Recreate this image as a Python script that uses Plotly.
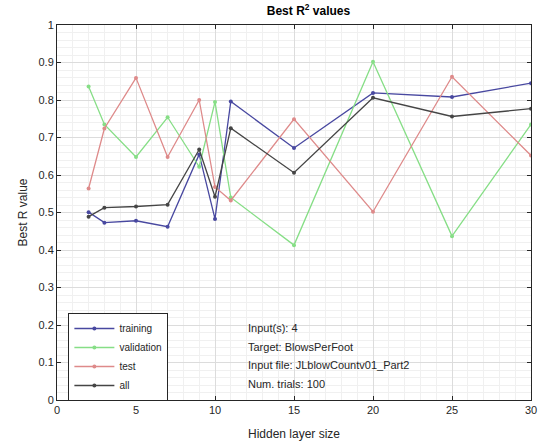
import plotly.graph_objects as go

hidden_sizes = [2, 3, 5, 7, 9, 10, 11, 15, 20, 25, 30]
training = [0.501, 0.473, 0.478, 0.462, 0.655, 0.483, 0.796, 0.672, 0.819, 0.808, 0.845]
validation = [0.836, 0.735, 0.648, 0.754, 0.622, 0.795, 0.540, 0.413, 0.902, 0.437, 0.735]
test = [0.564, 0.724, 0.859, 0.648, 0.800, 0.568, 0.532, 0.749, 0.502, 0.862, 0.652]
all_ = [0.489, 0.513, 0.516, 0.521, 0.668, 0.542, 0.725, 0.606, 0.806, 0.756, 0.777]

series_names = ["training", "validation", "test", "all"]
series_values = [training, validation, test, all_]
series_colors = ["#4848a0", "#86de86", "#de8a8a", "#454545"]

x_ticks = [0, 5, 10, 15, 20, 25, 30]
y_ticks = [0, 0.1, 0.2, 0.3, 0.4, 0.5, 0.6, 0.7, 0.8, 0.9, 1]
y_tick_labels = ["0", "0.1", "0.2", "0.3", "0.4", "0.5", "0.6", "0.7", "0.8", "0.9", "1"]

info_lines = ["Input(s): 4", "Target: BlowsPerFoot", "Input file: JLblowCountv01_Part2", "Num. trials: 100"]

fig = go.Figure()
for name, vals, col in zip(series_names, series_values, series_colors):
    fig.add_trace(go.Scatter(
        x=hidden_sizes, y=vals, mode="lines+markers", name=name,
        line=dict(color=col, width=1.3),
        marker=dict(color=col, size=4, symbol="circle"),
    ))

font_fam = "Liberation Sans, Arial, sans-serif"
axis_common = dict(
    showline=True, linecolor="#262626", linewidth=1, mirror="allticks",
    ticks="inside", ticklen=4, tickcolor="#262626",
    showgrid=True, gridcolor="#dcdcdc", gridwidth=1,
    zeroline=False,
    tickfont=dict(family=font_fam, size=11, color="#262626"),
)

fig.update_xaxes(
    range=[0, 30], tickvals=x_ticks,
    minor=dict(dtick=1, showgrid=True, gridcolor="#f0f0f0", ticks=""),
    title=dict(text="Hidden layer size", font=dict(family=font_fam, size=12, color="#262626"), standoff=14),
    **axis_common,
)
fig.update_yaxes(
    range=[0, 1], tickvals=y_ticks, ticktext=y_tick_labels,
    minor=dict(dtick=0.02, showgrid=True, gridcolor="#f0f0f0", ticks=""),
    title=dict(text="Best R value", font=dict(family=font_fam, size=12, color="#262626"), standoff=8),
    **axis_common,
)

for i, line in enumerate(info_lines):
    fig.add_annotation(
        x=0.399, y=0.192 - i * 0.0499, xref="paper", yref="paper",
        text=line, showarrow=False, xanchor="left", yanchor="middle",
        font=dict(family=font_fam, size=11, color="#262626"),
    )

fig.update_layout(
    width=546, height=448,
    margin=dict(l=57, r=9, t=25, b=48),
    paper_bgcolor="white", plot_bgcolor="white",
    title=dict(text="<b>Best R<sup>2</sup> values</b>", x=0.565, xanchor="center",
               y=0.975, yanchor="middle",
               font=dict(family=font_fam, size=12, color="#000000")),
    legend=dict(
        x=0.024, y=0.232, xanchor="left", yanchor="top",
        bgcolor="white", bordercolor="#262626", borderwidth=1,
        font=dict(family=font_fam, size=10, color="#262626"),
        itemwidth=40, tracegroupgap=0,
    ),
    showlegend=True,
)

fig.write_html("out.html")
